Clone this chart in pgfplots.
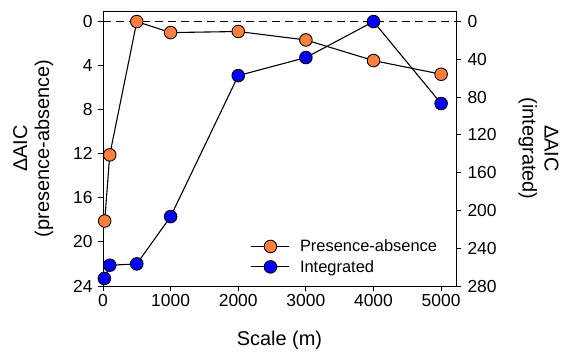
\documentclass[border=0pt]{standalone}
\usepackage{fontspec}
\setmainfont{Liberation Sans}
\usepackage{pgfplots}
\pgfplotsset{compat=1.18}
\definecolor{orng}{HTML}{FF7F3F}
\definecolor{blu}{HTML}{0000FF}
\begin{document}
\begin{tikzpicture}
\path[use as bounding box] (-103bp,-69bp) rectangle (461bp,286bp);
\pgfplotsset{
  common/.style={
    at={(0,0)}, anchor=south west,
    scale only axis, width=353bp, height=275bp,
    xmin=0, xmax=5220,
    /pgf/number format/assume math mode=true,
    /pgf/number format/1000 sep={},
    tick align=outside,
    major tick length=5bp,
    tick style={black, line width=0.9pt},
    axis line style={line width=0.9pt},
    tick label style={font=\fontsize{17.5}{20}\selectfont},
    label style={font=\fontsize{20}{22}\selectfont, align=center},
    y dir=reverse,
  },
}
\begin{axis}[common,
  ymin=-0.96, ymax=24,
  ytick={0,4,...,24},
  xtick={0,1000,...,5000},
  xtick pos=bottom, ytick pos=left,
  xlabel={Scale (m)},
  ylabel={ΔAIC\\(presence-absence)},
  yticklabel style={xshift=-2bp},
  ylabel style={yshift=13bp},
  xlabel style={yshift=-17bp},
  legend style={draw=none, fill=none, at={(0.41,0.03)}, anchor=south west,
    font=\fontsize{16.5}{19}\selectfont, row sep=3bp,
    /tikz/every odd column/.append style={column sep=8bp}},
  legend cell align=left,
  legend image code/.code={\draw[mark repeat=2,mark phase=2] plot coordinates {(0bp,0bp)(19bp,0bp)(38bp,0bp)};},
]
\addplot[black, dashed, dash pattern=on 8bp off 5bp, line width=0.9pt, forget plot] coordinates {(0,0) (5220,0)};
\addplot[black, line width=1.1pt, mark=*, mark size=6.3bp, mark options={fill=orng, draw=black, line width=0.9pt}]
 coordinates {(25,18.1) (100,12.1) (500,0) (1000,1.0) (2000,0.9) (3000,1.67) (4000,3.54) (5000,4.78)};
\addlegendentry{Presence-absence}
\addlegendimage{black, line width=1.1pt, mark=*, mark size=6.3bp, mark options={fill=blu, draw=black, line width=0.9pt}}
\addlegendentry{Integrated}
\end{axis}
\begin{axis}[common,
  ymin=-11.2, ymax=280,
  ytick={0,40,...,280},
  axis x line=none,
  axis y line*=right,
  yticklabel style={xshift=3bp},
  ylabel={ΔAIC\\(integrated)},
  ylabel style={rotate=180, yshift=15bp},
]
\addplot[black, line width=1.1pt, mark=*, mark size=6.3bp, mark options={fill=blu, draw=black, line width=0.9pt}]
 coordinates {(20,272) (100,258) (500,256.6) (1000,206.5) (2000,57.2) (3000,38.1) (4000,0) (5000,86.8)};
\end{axis}
\end{tikzpicture}
\end{document}
